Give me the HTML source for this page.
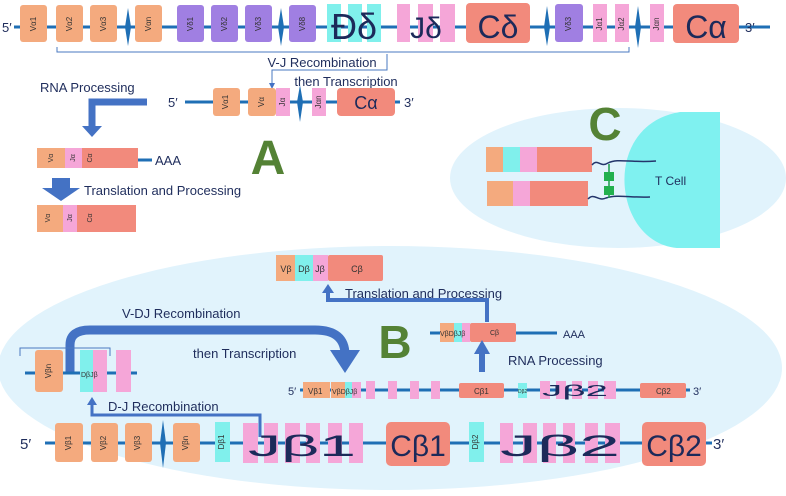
<!DOCTYPE html>
<html><head><meta charset="utf-8"><style>
html,body{margin:0;padding:0;background:#fff}
svg{display:block}
text{font-family:"Liberation Sans",sans-serif}
.v{font-size:8px;fill:#333}
.lab{font-size:13px;fill:#1f2d5c}
.big{fill:#1c2a5a}
</style></head><body>
<svg width="786" height="496" viewBox="0 0 786 496" xmlns="http://www.w3.org/2000/svg">
<defs>
<marker id="ah" markerWidth="6" markerHeight="6" refX="3" refY="3" orient="auto"><path d="M0,0 L6,3 L0,6Z" fill="#4472c4"/></marker>
</defs>
<ellipse cx="390" cy="368" rx="392" ry="122" fill="#e1f3fc"/>
<ellipse cx="618" cy="178" rx="168" ry="70" fill="#e1f3fc"/>
<path d="M720,112 L680,112 C630,120 615,170 630,210 C640,235 660,248 680,248 L720,248Z" fill="#7ff1f0"/>

<line x1="14" y1="27" x2="770" y2="27" stroke="#1f6fb5" stroke-width="3"/>
<text x="2" y="32" font-size="13" fill="#1f2d5c">5′</text>
<text x="745" y="32" font-size="13" fill="#1f2d5c">3′</text>
<g fill="#f4aa7e">
<rect x="20" y="5" width="27" height="37" rx="3"/><rect x="56" y="5" width="27" height="37" rx="3"/><rect x="90" y="5" width="27" height="37" rx="3"/><rect x="135" y="5" width="27" height="37" rx="3"/>
</g>
<g fill="#a07fe2">
<rect x="177" y="5" width="27" height="37" rx="3"/><rect x="211" y="5" width="27" height="37" rx="3"/><rect x="245" y="5" width="27" height="37" rx="3"/><rect x="289" y="5" width="27" height="37" rx="3"/><rect x="555" y="4" width="28" height="38" rx="3"/>
</g>
<g fill="#80f0ec"><rect x="327" y="4" width="14" height="38"/><rect x="348" y="4" width="14" height="38"/><rect x="367" y="4" width="14" height="38"/></g>
<g fill="#f5a6d8"><rect x="397" y="4" width="13" height="38"/><rect x="418" y="4" width="15" height="38"/><rect x="440" y="4" width="15" height="38"/><rect x="593" y="4" width="14" height="38"/><rect x="615" y="4" width="14" height="38"/><rect x="650" y="4" width="14" height="38"/></g>
<g fill="#f28a7c"><rect x="466" y="3" width="64" height="40" rx="4"/><rect x="673" y="4" width="66" height="39" rx="4"/></g>
<text x="354" y="39" font-size="36" text-anchor="middle" class="big">Đδ</text>
<text x="426" y="38" font-size="30" text-anchor="middle" class="big">Jδ</text>
<text x="498" y="38" font-size="32" text-anchor="middle" class="big">Cδ</text>
<text x="706" y="38" font-size="32" text-anchor="middle" class="big">Cα</text>
<g class="v" text-anchor="middle" dominant-baseline="middle">
<text transform="translate(34,24) rotate(-90)">Vα1</text><text transform="translate(70,24) rotate(-90)">Vα2</text><text transform="translate(104,24) rotate(-90)">Vα3</text><text transform="translate(149,24) rotate(-90)">Vαn</text>
<text transform="translate(191,24) rotate(-90)">Vδ1</text><text transform="translate(225,24) rotate(-90)">Vδ2</text><text transform="translate(259,24) rotate(-90)">Vδ3</text><text transform="translate(303,24) rotate(-90)">Vδ8</text>
<text transform="translate(569,24) rotate(-90)">Vδ3</text><text transform="translate(600,24) rotate(-90)">Jα1</text><text transform="translate(622,24) rotate(-90)">Jα2</text><text transform="translate(657,24) rotate(-90)">Jαn</text>
</g>
<g fill="#1f6fb5">
<path d="M128,8 L131,27 L128,46 L125,27Z"/><path d="M281,8 L284,27 L281,46 L278,27Z"/><path d="M547,6 L550,27 L547,46 L544,27Z"/><path d="M638,6 L641,27 L638,48 L635,27Z"/>
</g>
<path d="M57,47 L57,52 L629,52 L629,47" fill="none" stroke="#4a7ac0" stroke-width="1"/>
<path d="M387,54 L387,70 L272,70 L272,86" fill="none" stroke="#4a7ac0" stroke-width="1" marker-end="url(#ah)"/>
<text x="322" y="67" class="lab" text-anchor="middle">V-J Recombination</text>
<text x="346" y="86" class="lab" text-anchor="middle">then Transcription</text>

<line x1="185" y1="102" x2="400" y2="102" stroke="#1f6fb5" stroke-width="3"/>
<text x="168" y="107" font-size="13" fill="#1f2d5c">5′</text>
<text x="404" y="107" font-size="13" fill="#1f2d5c">3′</text>
<rect x="213" y="88" width="27" height="28" rx="3" fill="#f4aa7e"/><rect x="248" y="88" width="28" height="28" rx="3" fill="#f4aa7e"/>
<rect x="276" y="88" width="14" height="28" fill="#f5a6d8"/><rect x="312" y="88" width="14" height="28" fill="#f5a6d8"/>
<rect x="337" y="88" width="58" height="28" rx="4" fill="#f28a7c"/>
<path d="M300,85 L303,102 L300,122 L297,102Z" fill="#1f6fb5"/>
<text x="366" y="109" font-size="18" text-anchor="middle" class="big">Cα</text>
<g class="v" text-anchor="middle" dominant-baseline="middle"><text transform="translate(226,102) rotate(-90)">Vα1</text><text transform="translate(262,102) rotate(-90)">Vα</text><text transform="translate(283,102) rotate(-90)">Jα</text><text transform="translate(319,102) rotate(-90)">Jαn</text></g>

<text x="40" y="92" class="lab">RNA Processing</text>
<path d="M147,102 L92,102 L92,128" fill="none" stroke="#4472c4" stroke-width="7"/>
<path d="M82,126 L102,126 L92,137Z" fill="#4472c4"/>

<rect x="37" y="148" width="29" height="20" fill="#f4aa7e"/><rect x="65" y="148" width="17" height="20" fill="#f5a6d8"/><rect x="82" y="148" width="56" height="20" fill="#f28a7c"/>
<line x1="138" y1="160" x2="152" y2="160" stroke="#1f6fb5" stroke-width="3"/>
<text x="155" y="165" class="lab">AAA</text>
<g class="v" text-anchor="middle" dominant-baseline="middle" style="font-size:7px"><text transform="translate(51,158) rotate(-90)">Vα</text><text transform="translate(73,158) rotate(-90)">Jα</text><text transform="translate(90,158) rotate(-90)">Cα</text></g>
<path d="M52,178 L70,178 L70,188 L80,188 L61,201 L42,188 L52,188Z" fill="#4472c4"/>
<text x="84" y="195" class="lab">Translation and Processing</text>
<rect x="37" y="205" width="27" height="27" fill="#f4aa7e"/><rect x="63" y="205" width="14" height="27" fill="#f5a6d8"/><rect x="77" y="205" width="59" height="27" fill="#f28a7c"/>
<g class="v" text-anchor="middle" dominant-baseline="middle" style="font-size:7px"><text transform="translate(48,218) rotate(-90)">Vα</text><text transform="translate(70,218) rotate(-90)">Jα</text><text transform="translate(90,218) rotate(-90)">Cα</text></g>
<text x="268" y="174" font-size="48" font-weight="bold" fill="#548235" text-anchor="middle">A</text>

<text x="605" y="140" font-size="46" font-weight="bold" fill="#548235" text-anchor="middle">C</text>
<rect x="486" y="147" width="17" height="25" fill="#f4aa7e"/><rect x="503" y="147" width="17" height="25" fill="#80f0ec"/><rect x="520" y="147" width="17" height="25" fill="#f5a6d8"/><rect x="537" y="147" width="55" height="25" fill="#f28a7c"/>
<rect x="487" y="181" width="26" height="25" fill="#f4aa7e"/><rect x="513" y="181" width="17" height="25" fill="#f5a6d8"/><rect x="530" y="181" width="58" height="25" fill="#f28a7c"/>
<path d="M592,165 C598,158 600,168 608,163 C618,158 630,163 656,161" fill="none" stroke="#24356b" stroke-width="1.5"/>
<path d="M588,199 C594,192 598,202 606,198 C618,194 630,198 650,197" fill="none" stroke="#24356b" stroke-width="1.5"/>
<line x1="609" y1="164" x2="609" y2="198" stroke="#1a9a4a" stroke-width="1.5"/>
<rect x="604" y="172" width="10" height="9" fill="#22b04e"/><rect x="604" y="186" width="10" height="9" fill="#22b04e"/>
<text x="655" y="185" class="lab" style="font-size:12px">T Cell</text>

<rect x="276" y="255" width="19" height="26" fill="#f4aa7e"/><rect x="295" y="255" width="18" height="26" fill="#80f0ec"/><rect x="313" y="255" width="15" height="26" fill="#f5a6d8"/><rect x="328" y="255" width="55" height="26" rx="2" fill="#f28a7c"/>
<g font-size="9" fill="#333" text-anchor="middle"><text x="286" y="272">Vβ</text><text x="304" y="272">Dβ</text><text x="320" y="272">Jβ</text><text x="357" y="272">Cβ</text></g>
<path d="M487,322 L487,300 L328,300 L328,292" fill="none" stroke="#4472c4" stroke-width="4"/>
<path d="M322,293 L334,293 L328,284Z" fill="#4472c4"/>
<text x="345" y="298" class="lab">Translation and Processing</text>
<line x1="430" y1="333" x2="557" y2="333" stroke="#1f6fb5" stroke-width="3"/>
<rect x="440" y="323" width="14" height="19" fill="#f4aa7e"/><rect x="454" y="323" width="8" height="19" fill="#80f0ec"/><rect x="462" y="323" width="8" height="19" fill="#f5a6d8"/><rect x="470" y="323" width="46" height="19" rx="2" fill="#f28a7c"/>
<text x="440" y="336" font-size="7" fill="#333">VβDβJβ</text><text x="490" y="335" font-size="7" fill="#333">Cβ</text>
<text x="563" y="338" font-size="11" fill="#1f2d5c">AAA</text>
<text x="395" y="358" font-size="46" font-weight="bold" fill="#548235" text-anchor="middle">B</text>
<path d="M482,372 L482,352" stroke="#4472c4" stroke-width="6"/>
<path d="M474,354 L490,354 L482,340Z" fill="#4472c4"/>
<text x="508" y="365" class="lab">RNA Processing</text>

<path d="M70,373 L70,345 Q70,330 90,330 L315,330 Q345,330 345,355" fill="none" stroke="#4472c4" stroke-width="9"/>
<path d="M330,350 L360,350 L345,373Z" fill="#4472c4"/>
<text x="122" y="318" class="lab">V-DJ Recombination</text>
<text x="193" y="358" class="lab">then Transcription</text>

<line x1="25" y1="373" x2="137" y2="373" stroke="#1f6fb5" stroke-width="3"/>
<path d="M20,356 L20,348 L110,348 L110,356" fill="none" stroke="#4a7ac0" stroke-width="1"/>
<rect x="35" y="350" width="28" height="42" rx="3" fill="#f4aa7e"/>
<rect x="80" y="350" width="13" height="42" fill="#80f0ec"/><rect x="93" y="350" width="14" height="42" fill="#f5a6d8"/><rect x="116" y="350" width="15" height="42" fill="#f5a6d8"/>
<text transform="translate(49,371) rotate(-90)" class="v" text-anchor="middle" dominant-baseline="middle">Vβn</text>
<text x="81" y="377" font-size="7" fill="#333">DβJβ</text>

<path d="M260,437 L260,415 L92,415 L92,404" fill="none" stroke="#4472c4" stroke-width="3"/>
<path d="M87,405 L97,405 L92,397Z" fill="#4472c4"/>
<text x="108" y="411" class="lab">D-J Recombination</text>

<line x1="300" y1="390" x2="690" y2="390" stroke="#1f6fb5" stroke-width="3"/>
<text x="288" y="395" font-size="11" fill="#1f2d5c">5′</text><text x="693" y="395" font-size="11" fill="#1f2d5c">3′</text>
<rect x="303" y="382" width="27" height="16" fill="#f4aa7e"/><rect x="331" y="382" width="14" height="16" fill="#f4aa7e"/><rect x="345" y="382" width="7" height="16" fill="#80f0ec"/><rect x="352" y="382" width="9" height="16" fill="#f5a6d8"/>
<g fill="#f5a6d8"><rect x="366" y="381" width="9" height="18"/><rect x="388" y="381" width="9" height="18"/><rect x="410" y="381" width="9" height="18"/><rect x="431" y="381" width="9" height="18"/>
<rect x="540" y="381" width="10" height="18"/><rect x="556" y="381" width="10" height="18"/><rect x="572" y="381" width="10" height="18"/><rect x="588" y="381" width="10" height="18"/><rect x="604" y="381" width="12" height="18"/></g>
<rect x="459" y="383" width="45" height="15" rx="2" fill="#f28a7c"/><rect x="518" y="383" width="9" height="15" fill="#80f0ec"/><rect x="640" y="383" width="46" height="15" rx="2" fill="#f28a7c"/>
<g font-size="8" fill="#333"><text x="308" y="394">Vβ1</text><text x="332" y="394" font-size="7">VβDβJβ</text><text x="474" y="394">Cβ1</text><text x="518" y="393" font-size="5">Dβ2</text><text x="656" y="394">Cβ2</text></g>
<text x="575" y="396" font-size="16" fill="#1c2a5a" text-anchor="middle" textLength="66" lengthAdjust="spacingAndGlyphs">Jβ2</text>

<line x1="45" y1="443" x2="712" y2="443" stroke="#1f6fb5" stroke-width="3"/>
<text x="20" y="449" font-size="15" fill="#1f2d5c">5′</text><text x="713" y="449" font-size="15" fill="#1f2d5c">3′</text>
<g fill="#f4aa7e"><rect x="55" y="423" width="28" height="39" rx="3"/><rect x="91" y="423" width="27" height="39" rx="3"/><rect x="125" y="423" width="27" height="39" rx="3"/><rect x="173" y="423" width="27" height="39" rx="3"/></g>
<path d="M163,420 L166,443 L163,468 L160,443Z" fill="#1f6fb5"/>
<rect x="215" y="422" width="15" height="40" fill="#80f0ec"/><rect x="469" y="422" width="15" height="40" fill="#80f0ec"/>
<g fill="#f5a6d8"><rect x="243" y="423" width="15" height="40"/><rect x="264" y="423" width="14" height="40"/><rect x="285" y="423" width="15" height="40"/><rect x="306" y="423" width="14" height="40"/><rect x="328" y="423" width="14" height="40"/><rect x="349" y="423" width="14" height="40"/>
<rect x="500" y="423" width="13" height="40"/><rect x="523" y="423" width="14" height="40"/><rect x="543" y="423" width="13" height="40"/><rect x="563" y="423" width="12" height="40"/><rect x="585" y="423" width="13" height="40"/><rect x="605" y="423" width="15" height="40"/></g>
<rect x="386" y="422" width="64" height="44" rx="5" fill="#f28a7c"/><rect x="642" y="422" width="64" height="44" rx="5" fill="#f28a7c"/>
<g class="v" text-anchor="middle" dominant-baseline="middle"><text transform="translate(69,443) rotate(-90)">Vβ1</text><text transform="translate(104,443) rotate(-90)">Vβ2</text><text transform="translate(138,443) rotate(-90)">Vβ3</text><text transform="translate(186,443) rotate(-90)">Vβn</text><text transform="translate(222,442) rotate(-90)">Dβ1</text><text transform="translate(476,442) rotate(-90)">Dβ2</text></g>
<text x="302" y="456" font-size="30" class="big" text-anchor="middle" textLength="108" lengthAdjust="spacingAndGlyphs">Jβ1</text>
<text x="560" y="456" font-size="30" class="big" text-anchor="middle" textLength="120" lengthAdjust="spacingAndGlyphs">Jβ2</text>
<text x="418" y="456" font-size="30" class="big" text-anchor="middle">Cβ1</text>
<text x="674" y="456" font-size="30" class="big" text-anchor="middle">Cβ2</text>
</svg>
</body></html>
